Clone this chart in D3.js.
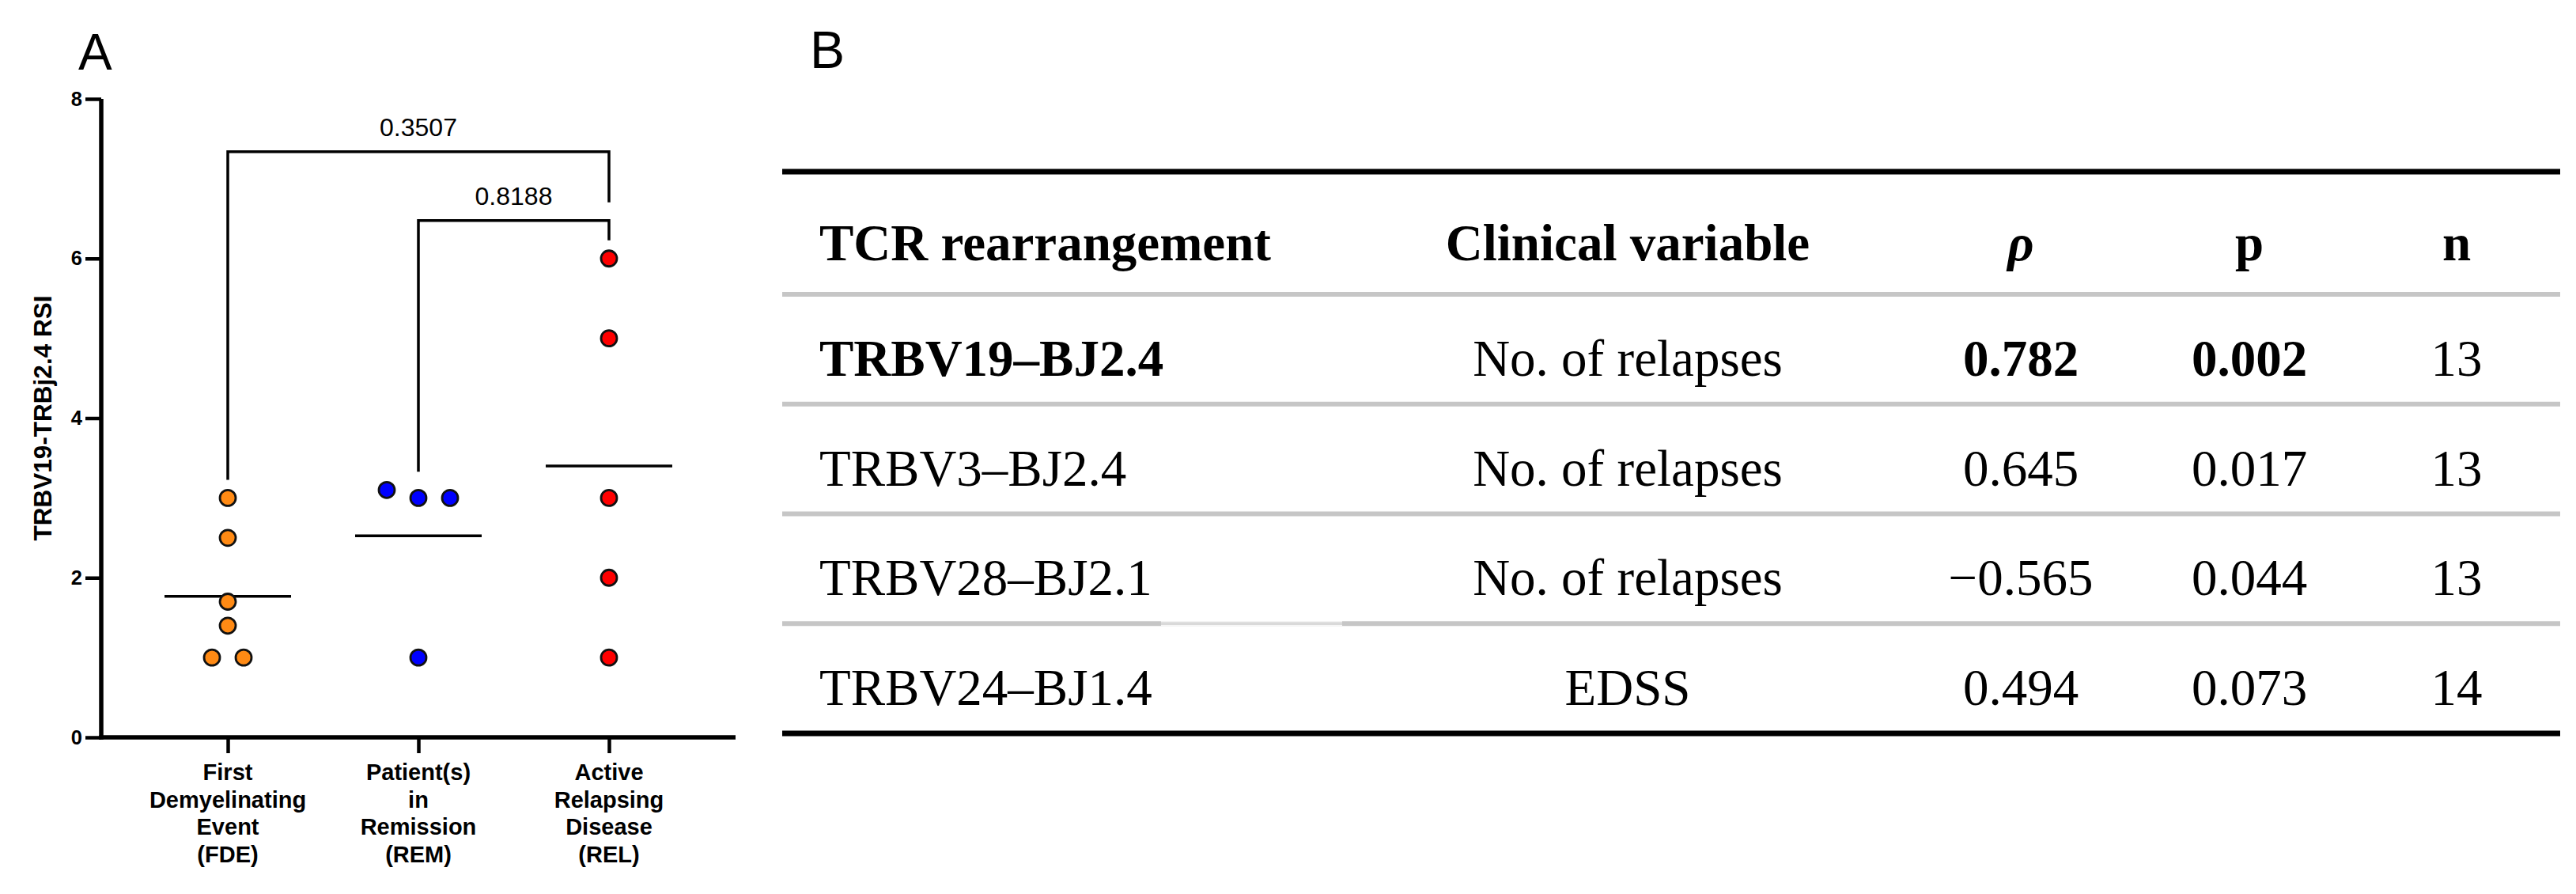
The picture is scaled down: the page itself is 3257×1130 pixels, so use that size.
<!DOCTYPE html>
<html>
<head>
<meta charset="utf-8">
<script src="https://cdn.jsdelivr.net/npm/d3@7"></script>
<style>
  html, body { margin: 0; padding: 0; background: #fff; }
  svg { display: block; }
  .sans { font-family: "Liberation Sans", Arial, sans-serif; }
  .serif { font-family: "Liberation Serif", "Times New Roman", serif; }
</style>
</head>
<body>
<svg id="fig" width="3257" height="1130"></svg>
<script>
// ---- panel A data ----
var groups = ['FDE', 'REM', 'REL'];
var groupLabels = [
  ['First', 'Demyelinating', 'Event', '(FDE)'],
  ['Patient(s)', 'in', 'Remission', '(REM)'],
  ['Active', 'Relapsing', 'Disease', '(REL)']
];
var groupColors = ['#ff8a14', '#0000ff', '#ff0000'];
var fdeValues = [3.0, 2.5, 1.7, 1.4, 1.0, 1.0];
var remValues = [3.1, 3.0, 3.0, 1.0];
var relValues = [6.0, 5.0, 3.0, 2.0, 1.0];
var yTicks = [0, 2, 4, 6, 8];
var yTitle = 'TRBV19-TRBj2.4 RSI';
var comparisons = [
  {from: 'REM', to: 'REL', label: '0.8188'},
  {from: 'FDE', to: 'REL', label: '0.3507'}
];

// ---- panel B data ----
var headers = ['TCR rearrangement', 'Clinical variable', 'ρ', 'p', 'n'];
var rearrangements = ['TRBV19–BJ2.4', 'TRBV3–BJ2.4', 'TRBV28–BJ2.1', 'TRBV24–BJ1.4'];
var clinicalVars = ['No. of relapses', 'No. of relapses', 'No. of relapses', 'EDSS'];
var rhoValues = ['0.782', '0.645', '−0.565', '0.494'];
var pValues = ['0.002', '0.017', '0.044', '0.073'];
var nValues = ['13', '13', '13', '14'];
var boldRow = 0;

var svg = d3.select('#fig');

drawPanelA(svg.append('g'));
drawPanelB(svg.append('g'));


function drawPanelA(g) {
  var values = [fdeValues, remValues, relValues];
  var left = 128, right = 930, top = 125, bottom = 932;
  var r = 10;
  var swarmStep = 40;

  var x = d3.scalePoint().domain(groups).range([left, right]).padding(0.664);
  var y = d3.scaleLinear().domain([0, 8]).range([bottom, top]);

  g.append('text')
    .attr('class', 'sans')
    .attr('x', 99)
    .attr('y', 88)
    .attr('font-size', 64)
    .text('A');

  // y axis
  var yAxis = g.append('g')
    .attr('transform', 'translate(' + left + ',0)')
    .call(d3.axisLeft(y).tickValues(yTicks).tickSize(20).tickPadding(4).tickSizeOuter(0));
  yAxis.select('.domain').attr('stroke-width', 5.5).attr('stroke', '#000');
  yAxis.selectAll('.tick line').attr('stroke-width', 4.5);
  yAxis.selectAll('.tick text')
    .attr('class', 'sans')
    .attr('font-size', 25.5)
    .attr('font-weight', 'bold')
    .attr('fill', '#000');
  yAxis.select('.domain').attr('d', 'M0,' + (bottom + 2.75) + 'V' + top);

  g.append('text')
    .attr('class', 'sans')
    .attr('transform', 'translate(65,' + ((top + bottom) / 2) + ') rotate(-90)')
    .attr('text-anchor', 'middle')
    .attr('font-size', 31.5)
    .attr('font-weight', 'bold')
    .text(yTitle);

  // x axis
  var xAxis = g.append('g')
    .attr('transform', 'translate(0,' + bottom + ')')
    .call(d3.axisBottom(x).tickSize(20).tickSizeOuter(0).tickFormat(''));
  xAxis.select('.domain').attr('stroke-width', 5.5).attr('d', 'M' + (left - 2.75) + ',0H' + right);
  xAxis.selectAll('.tick line').attr('stroke-width', 4.5);

  var labels = g.append('g').selectAll('text')
    .data(groups)
    .join('text')
      .attr('class', 'sans')
      .attr('text-anchor', 'middle')
      .attr('font-size', 29)
      .attr('font-weight', 'bold')
      .attr('transform', function(d) { return 'translate(' + x(d) + ',986)'; });
  labels.selectAll('tspan')
    .data(function(d, i) { return groupLabels[i]; })
    .join('tspan')
      .attr('x', 0)
      .attr('y', function(d, i) { return i * 34.7; })
      .text(function(d) { return d; });

  // mean lines
  g.append('g').selectAll('line')
    .data(groups)
    .join('line')
      .attr('x1', function(d) { return x(d) - 80; })
      .attr('x2', function(d) { return x(d) + 80; })
      .attr('y1', function(d, i) { return y(d3.mean(values[i])); })
      .attr('y2', function(d, i) { return y(d3.mean(values[i])); })
      .attr('stroke', '#000')
      .attr('stroke-width', 3.5);

  // dots, spread sideways when values nearly coincide
  var points = [];
  groups.forEach(function(grp, gi) {
    var sorted = values[gi].slice().sort(d3.descending);
    var clusters = [];
    sorted.forEach(function(v) {
      var last = clusters[clusters.length - 1];
      if (last && Math.abs(last[last.length - 1] - v) < 0.15) last.push(v);
      else clusters.push([v]);
    });
    clusters.forEach(function(c) {
      c.forEach(function(v, i) {
        points.push({group: grp, gi: gi, value: v, offset: (i - (c.length - 1) / 2) * swarmStep});
      });
    });
  });

  g.append('g').selectAll('circle')
    .data(points)
    .join('circle')
      .attr('cx', function(d) { return x(d.group) + d.offset; })
      .attr('cy', function(d) { return y(d.value); })
      .attr('r', r)
      .attr('fill', function(d) { return groupColors[d.gi]; })
      .attr('stroke', '#111')
      .attr('stroke-width', 2.8);

  // comparison brackets, stacked from the narrowest up
  var gap = 23, legMin = 25, stackStep = 87;
  var groupMax = {};
  groups.forEach(function(grp, gi) { groupMax[grp] = y(d3.max(values[gi])); });
  var endTop = Object.assign({}, groupMax);

  comparisons.forEach(function(c, k) {
    var i0 = groups.indexOf(c.from), i1 = groups.indexOf(c.to);
    var covered = groups.slice(i0, i1 + 1);
    var hi = d3.min(covered.map(function(grp) { return groupMax[grp]; }));
    var yTop = hi - gap - legMin - k * stackStep;
    var x0 = x(c.from), x1 = x(c.to);
    var yl = endTop[c.from] - gap, yr = endTop[c.to] - gap;

    g.append('path')
      .attr('d', 'M' + x0 + ',' + yl + 'V' + yTop + 'H' + x1 + 'V' + yr)
      .attr('fill', 'none')
      .attr('stroke', '#000')
      .attr('stroke-width', 3.5);

    g.append('text')
      .attr('class', 'sans')
      .attr('x', (x0 + x1) / 2)
      .attr('y', yTop - 20)
      .attr('text-anchor', 'middle')
      .attr('font-size', 32)
      .text(c.label);

    endTop[c.from] = Math.min(endTop[c.from], yTop);
    endTop[c.to] = Math.min(endTop[c.to], yTop);
  });
}


function drawPanelB(g) {
  var left = 989, right = 3237;
  var colX = [1036, 2058, 2555, 2844, 3106];
  var colAnchor = ['start', 'middle', 'middle', 'middle', 'middle'];
  var fontSize = 65;

  g.append('text')
    .attr('class', 'sans')
    .attr('x', 1024)
    .attr('y', 86)
    .attr('font-size', 66)
    .text('B');

  var rowLine = d3.scaleLinear().domain([0, rearrangements.length]).range([372, 927]);

  // rules
  g.append('line')
    .attr('x1', left).attr('x2', right)
    .attr('y1', 217).attr('y2', 217)
    .attr('stroke', '#000').attr('stroke-width', 7);

  g.append('g').selectAll('line')
    .data(d3.range(rearrangements.length))
    .join('line')
      .attr('x1', left).attr('x2', right)
      .attr('y1', function(i) { return rowLine(i); })
      .attr('y2', function(i) { return rowLine(i); })
      .attr('stroke', '#c6c6c6')
      .attr('stroke-width', 6);

  // faint patch in the rule under the third row
  g.append('line')
    .attr('x1', 1468).attr('x2', 1697)
    .attr('y1', rowLine(3)).attr('y2', rowLine(3))
    .attr('stroke', '#ffffff').attr('stroke-width', 6)
    .clone()
      .attr('stroke', '#d9d9d9').attr('stroke-width', 4);

  g.append('line')
    .attr('x1', left).attr('x2', right)
    .attr('y1', rowLine(rearrangements.length)).attr('y2', rowLine(rearrangements.length))
    .attr('stroke', '#000').attr('stroke-width', 7);

  // header
  g.append('g').selectAll('text')
    .data(headers)
    .join('text')
      .attr('class', 'serif')
      .attr('x', function(d, i) { return colX[i]; })
      .attr('y', rowLine(0) - 43)
      .attr('text-anchor', function(d, i) { return colAnchor[i]; })
      .attr('font-size', fontSize)
      .attr('font-weight', 'bold')
      .attr('font-style', function(d, i) { return i === 2 ? 'italic' : 'normal'; })
      .text(function(d) { return d; });

  // body
  var rows = rearrangements.map(function(d, i) {
    return [d, clinicalVars[i], rhoValues[i], pValues[i], nValues[i]];
  });

  g.append('g').selectAll('g')
    .data(rows)
    .join('g')
      .attr('transform', function(d, i) { return 'translate(0,' + (rowLine(i + 1) - 36) + ')'; })
    .selectAll('text')
    .data(function(d, ri) {
      return d.map(function(v, ci) { return {v: v, ci: ci, ri: ri}; });
    })
    .join('text')
      .attr('class', 'serif')
      .attr('x', function(d) { return colX[d.ci]; })
      .attr('text-anchor', function(d) { return colAnchor[d.ci]; })
      .attr('font-size', fontSize)
      .attr('font-weight', function(d) {
        return d.ri === boldRow && (d.ci === 0 || d.ci === 2 || d.ci === 3) ? 'bold' : 'normal';
      })
      .text(function(d) { return d.v; });
}
</script>
</body>
</html>
